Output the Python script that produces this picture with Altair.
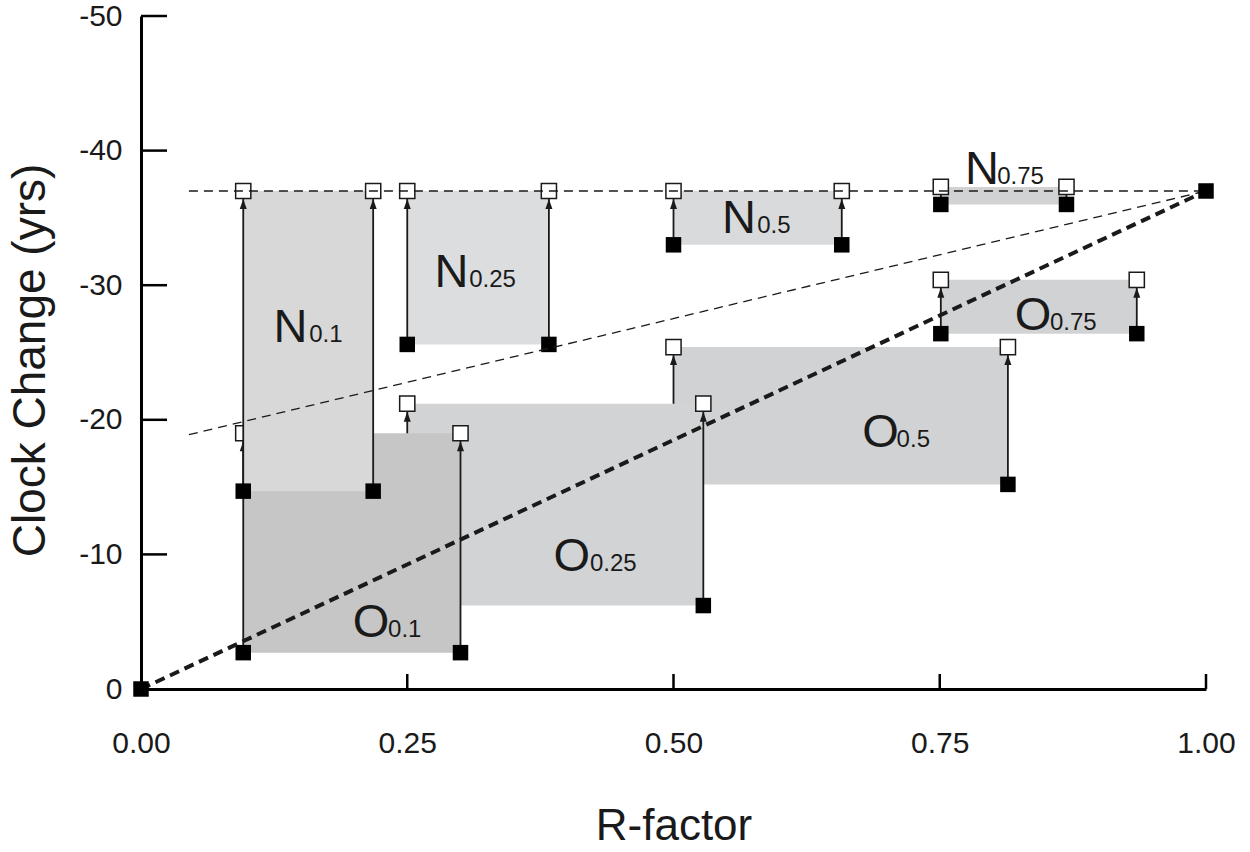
import altair as alt
import pandas as pd

# ---- data ----
names = ["N0.1", "N0.25", "N0.5", "N0.75", "O0.1", "O0.25", "O0.5", "O0.75"]
letters = ["N", "N", "N", "N", "O", "O", "O", "O"]
subs = ["0.1", "0.25", "0.5", "0.75", "0.1", "0.25", "0.5", "0.75"]
x_left = [0.096, 0.25, 0.50, 0.751, 0.096, 0.25, 0.50, 0.751]
x_right = [0.218, 0.383, 0.658, 0.869, 0.300, 0.528, 0.814, 0.935]
y_bottom = [-14.7, -25.6, -33.0, -36.0, -2.7, -6.2, -15.2, -26.4]
y_top = [-37.0, -37.0, -37.0, -37.3, -19.0, -21.2, -25.4, -30.4]
label_x = [0.1404, 0.2915, 0.5615, 0.7897, 0.2160, 0.4045, 0.6945, 0.8375]
sub_x = [0.1580, 0.3082, 0.5786, 0.8040, 0.2320, 0.4215, 0.7095, 0.8535]
label_y = [-25.8, -29.9, -33.9, -37.5, -3.9, -8.8, -18.0, -26.7]
fills = ["#d8d8d8", "#dcdddf", "#d9dadc", "#d1d2d4",
         "#c6c6c6", "#d2d3d5", "#d1d2d4", "#d1d2d4"]
draw_order = ["O0.75", "O0.5", "O0.25", "O0.1", "N0.75", "N0.5", "N0.25", "N0.1"]

hline_x = [0.045, 1.0]
hline_y = [-37.0, -37.0]
thin_x = [0.045, 1.0]
thin_y = [-18.9, -37.0]
thick_x = [0.0, 1.0]
thick_y = [0.0, -37.0]

x_ticks = [0.0, 0.25, 0.5, 0.75, 1.0]
y_ticks = [0, -10, -20, -30, -40, -50]

FONT = "Liberation Sans"
INK = "#1a1a1a"

xs = alt.Scale(domain=[0, 1], nice=False, zero=False)
ys = alt.Scale(domain=[0, -50], nice=False, zero=False)

xaxis = alt.Axis(title="R-factor", values=x_ticks, format=".2f", ticks=False, grid=False,
                 labelFlush=False, labelOverlap=False,
                 domainColor="black", domainWidth=3, labelFont=FONT, labelFontSize=30,
                 labelColor=INK, labelPadding=39, labelBaseline="top",
                 titleFont=FONT, titleFontSize=44, titleFontWeight="normal",
                 titleColor=INK, titlePadding=46)
yaxis = alt.Axis(title="Clock Change (yrs)", values=y_ticks, labelExpr="'' + datum.value",
                 ticks=False, grid=False, domainColor="black", domainWidth=3,
                 labelFlush=False, labelOverlap=False,
                 labelFont=FONT, labelFontSize=30, labelColor=INK, labelPadding=19,
                 titleFont=FONT, titleFontSize=46, titleFontWeight="normal",
                 titleColor=INK, titlePadding=24, titleY=344)


def X(f):
    return alt.X(f, type="quantitative", scale=xs, axis=xaxis)


def Y(f):
    return alt.Y(f, type="quantitative", scale=ys, axis=yaxis)


ARROW = "M0,-1L0.7,1L-0.7,1Z"
layers = []

for nm in draw_order:
    i = names.index(nm)
    box = pd.DataFrame({"xl": [x_left[i]], "xr": [x_right[i]],
                        "yb": [y_bottom[i]], "yt": [y_top[i]]})
    pts = pd.DataFrame({"x": [x_left[i], x_right[i]],
                        "yb": [y_bottom[i]] * 2, "yt": [y_top[i]] * 2})
    layers.append(alt.Chart(box).mark_rect(fill=fills[i], strokeWidth=0).encode(
        x=X("xl"), x2="xr", y=Y("yb"), y2="yt"))
    layers.append(alt.Chart(pts).mark_rule(color=INK, strokeWidth=1.8).encode(
        x=X("x"), y=Y("yb"), y2="yt"))
    layers.append(alt.Chart(pts).mark_point(shape=ARROW, filled=True, size=100, color=INK,
                                            opacity=1, yOffset=13).encode(x=X("x"), y=Y("yt")))
    layers.append(alt.Chart(pts).mark_square(size=230, fill="white", stroke=INK,
                                             strokeWidth=1.5, opacity=1).encode(x=X("x"), y=Y("yt")))
    layers.append(alt.Chart(pts).mark_square(size=240, color="black", opacity=1).encode(
        x=X("x"), y=Y("yb")))

# dashed reference lines
for lx, ly, w, dash in [(hline_x, hline_y, 1.3, [9, 6]),
                        (thin_x, thin_y, 1.3, [9, 6]),
                        (thick_x, thick_y, 4, [10, 6])]:
    d = pd.DataFrame({"x": lx, "y": ly})
    layers.append(alt.Chart(d).mark_line(color=INK, strokeWidth=w, strokeDash=dash).encode(
        x=X("x"), y=Y("y")))

ends = pd.DataFrame({"x": thick_x, "y": thick_y})
layers.append(alt.Chart(ends).mark_square(size=240, color="black", opacity=1).encode(
    x=X("x"), y=Y("y")))

# inward ticks
ytk = pd.DataFrame({"v": [v for v in y_ticks if v != 0]})
layers.append(alt.Chart(ytk).mark_rule(color="black", strokeWidth=2.5).encode(
    y=Y("v"), x=alt.value(0), x2=alt.value(26)))
xtk = pd.DataFrame({"v": [v for v in x_ticks if v != 0]})
layers.append(alt.Chart(xtk).mark_rule(color="black", strokeWidth=2.5).encode(
    x=X("v"), y=alt.value(673), y2=alt.value(658)))

# labels
lab = pd.DataFrame({"lx": label_x, "sx": sub_x, "ly": label_y,
                    "letter": letters, "sub": subs})
layers.append(alt.Chart(lab).mark_text(align="center", baseline="alphabetic", font=FONT,
                                       fontSize=47, color=INK).encode(
    x=X("lx"), y=Y("ly"), text="letter"))
layers.append(alt.Chart(lab).mark_text(align="left", baseline="alphabetic", font=FONT,
                                       fontSize=24, color=INK).encode(
    x=X("sx"), y=Y("ly"), text="sub"))

chart = alt.LayerChart(layer=layers).properties(
    width=1065, height=673,
    padding={"left": 141, "top": 16, "right": 44, "bottom": 163},
    autosize=alt.AutoSizeParams(type="none"),
    background="white",
).configure_view(stroke=None)

chart.save("out.html", embed_options={"renderer": "svg", "actions": False})
